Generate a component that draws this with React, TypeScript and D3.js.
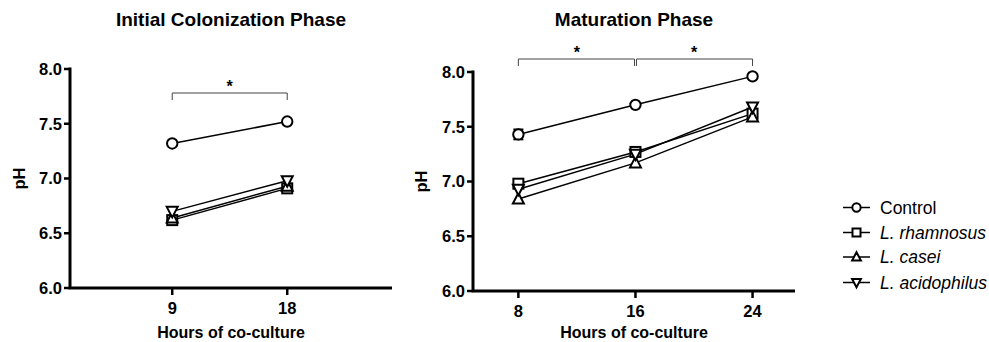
import React from "react";
import * as d3 from "d3";

const seriesNames = ["Control", "L. rhamnosus", "L. casei", "L. acidophilus"];
const seriesShapes = ["circle", "square", "triangle", "triangleDown"];

const hoursInitial = [9, 18];
const initialControl = [7.32, 7.52];
const initialRhamnosus = [6.62, 6.91];
const initialCasei = [6.64, 6.93];
const initialAcidophilus = [6.70, 6.98];
const initialErr = [
  [0, 0],
  [0, 0.03],
  [0, 0],
  [0, 0],
];

const hoursMaturation = [8, 16, 24];
const maturationControl = [7.43, 7.70, 7.96];
const maturationRhamnosus = [6.98, 7.27, 7.62];
const maturationCasei = [6.84, 7.17, 7.59];
const maturationAcidophilus = [6.93, 7.25, 7.68];
const maturationErr = [
  [0.045, 0.0, 0.0],
  [0.04, 0.03, 0.035],
  [0.0, 0.0, 0.0],
  [0.0, 0.0, 0.0],
];

const yTicks = [6.0, 6.5, 7.0, 7.5, 8.0];
const titles = ["Initial Colonization Phase", "Maturation Phase"];
const xLabel = "Hours of co-culture";
const yLabel = "pH";

const FONT = "'Liberation Sans', Arial, Helvetica, sans-serif";

type PanelProps = {
  title: string;
  hours: number[];
  series: number[][];
  errs: number[][];
  xDomain: [number, number];
  xRange: [number, number];
  yRange: [number, number];
  titleX: number;
  labelX: number;
  yLabelX: number;
  brackets: [number, number][];
  bracketY: number;
};

function Marker({ shape, x, y, s = 1 }: { shape: string; x: number; y: number; s?: number }) {
  const common = { fill: "white", stroke: "black", strokeWidth: 2 };
  if (shape === "circle") return <circle cx={x} cy={y} r={5.2 * s} {...common} />;
  if (shape === "square")
    return <rect x={x - 5 * s} y={y - 5 * s} width={10 * s} height={10 * s} {...common} />;
  if (shape === "triangle")
    return (
      <path
        d={`M${x},${y - 6 * s}L${x + 5.5 * s},${y + 4.5 * s}L${x - 5.5 * s},${y + 4.5 * s}Z`}
        {...common}
      />
    );
  return (
    <path
      d={`M${x},${y + 6 * s}L${x + 5.5 * s},${y - 4.5 * s}L${x - 5.5 * s},${y - 4.5 * s}Z`}
      {...common}
    />
  );
}

function Panel(p: PanelProps) {
  const x = d3.scaleLinear().domain(p.xDomain).range(p.xRange);
  const y = d3.scaleLinear().domain([6, 8]).range(p.yRange);
  const x0 = p.xRange[0];
  const x1 = p.xRange[1];
  const yb = p.yRange[0];
  const yt = p.yRange[1];
  const line = d3
    .line<number>()
    .x((_, i) => x(p.hours[i]))
    .y((d) => y(d));
  return (
    <g>
      <text x={p.titleX} y={26} textAnchor="middle" fontFamily={FONT} fontWeight="bold" fontSize={19}>
        {p.title}
      </text>
      {/* axes */}
      <path d={`M${x0},${yt - 1.5}V${yb}H${x1}`} fill="none" stroke="black" strokeWidth={3} />
      {yTicks.map((t) => (
        <g key={t}>
          <line x1={x0 - 6} x2={x0} y1={y(t)} y2={y(t)} stroke="black" strokeWidth={2.5} />
          <text
            x={x0 - 8}
            y={y(t)}
            dy="0.35em"
            textAnchor="end"
            fontFamily={FONT}
            fontWeight="bold"
            fontSize={16.5}
          >
            {t.toFixed(1)}
          </text>
        </g>
      ))}
      {p.hours.map((h) => (
        <g key={h}>
          <line x1={x(h)} x2={x(h)} y1={yb} y2={yb + 7} stroke="black" strokeWidth={2.5} />
          <text x={x(h)} y={yb + 26} textAnchor="middle" fontFamily={FONT} fontWeight="bold" fontSize={16.5}>
            {h}
          </text>
        </g>
      ))}
      <text x={p.labelX} y={338} textAnchor="middle" fontFamily={FONT} fontWeight="bold" fontSize={16}>
        {xLabel}
      </text>
      <text
        transform={`translate(${p.yLabelX},${(yt + yb) / 2}) rotate(-90)`}
        textAnchor="middle"
        fontFamily={FONT}
        fontWeight="bold"
        fontSize={16.5}
      >
        {yLabel}
      </text>
      {/* significance brackets */}
      {p.brackets.map(([a, b], i) => (
        <g key={i}>
          <path
            d={`M${x(a) + (i > 0 ? 1 : 0)},${p.bracketY + 7}V${p.bracketY}H${x(b) - (i < p.brackets.length - 1 ? 1 : 0)}V${p.bracketY + 7}`}
            fill="none"
            stroke="#444"
            strokeWidth={1}
          />
          <text
            x={(x(a) + x(b)) / 2}
            y={p.bracketY - 1}
            textAnchor="middle"
            fontFamily={FONT}
            fontWeight="bold"
            fontSize={16}
          >
            *
          </text>
        </g>
      ))}
      {/* lines */}
      {p.series.map((s, si) => (
        <path key={si} d={line(s) || ""} fill="none" stroke="black" strokeWidth={1.5} />
      ))}
      {/* error bars */}
      {p.series.map((s, si) =>
        s.map((v, i) => {
          const e = p.errs[si][i];
          if (!e) return null;
          const cx = x(p.hours[i]);
          return (
            <g key={`${si}-${i}`} stroke="black" strokeWidth={2}>
              <line x1={cx} x2={cx} y1={y(v - e)} y2={y(v + e)} />
              <line x1={cx - 5} x2={cx + 5} y1={y(v + e)} y2={y(v + e)} />
              <line x1={cx - 5} x2={cx + 5} y1={y(v - e)} y2={y(v - e)} />
            </g>
          );
        })
      )}
      {/* markers */}
      {p.series.map((s, si) =>
        s.map((v, i) => <Marker key={`${si}-${i}`} shape={seriesShapes[si]} x={x(p.hours[i])} y={y(v)} />)
      )}
    </g>
  );
}

export default function App() {
  const legendY = [207.5, 232.5, 257, 282.5];
  return (
    <svg width={989} height={342} style={{ position: "absolute", left: 0, top: 0, background: "white" }}>
      <rect width={989} height={342} fill="white" />
      <Panel
        title={titles[0]}
        hours={hoursInitial}
        series={[initialControl, initialRhamnosus, initialCasei, initialAcidophilus]}
        errs={initialErr}
        xDomain={[1, 26.2]}
        xRange={[70, 392]}
        yRange={[288, 69]}
        titleX={231}
        labelX={231}
        yLabelX={25}
        brackets={[[9, 18]]}
        bracketY={93}
      />
      <Panel
        title={titles[1]}
        hours={hoursMaturation}
        series={[maturationControl, maturationRhamnosus, maturationCasei, maturationAcidophilus]}
        errs={maturationErr}
        xDomain={[4.9, 26.9]}
        xRange={[473, 795]}
        yRange={[291, 72]}
        titleX={634}
        labelX={634}
        yLabelX={427}
        brackets={[
          [8, 16],
          [16, 24],
        ]}
        bracketY={59}
      />
      {/* legend */}
      {seriesNames.map((n, i) => (
        <g key={n}>
          <line x1={843} x2={870} y1={legendY[i]} y2={legendY[i]} stroke="black" strokeWidth={1.5} />
          <Marker shape={seriesShapes[i]} x={856.5} y={legendY[i]} s={0.8} />
          <text
            x={880}
            y={legendY[i]}
            dy="0.35em"
            fontFamily={FONT}
            fontSize={17.5}
            fontStyle={i === 0 ? "normal" : "italic"}
          >
            {n}
          </text>
        </g>
      ))}
    </svg>
  );
}
